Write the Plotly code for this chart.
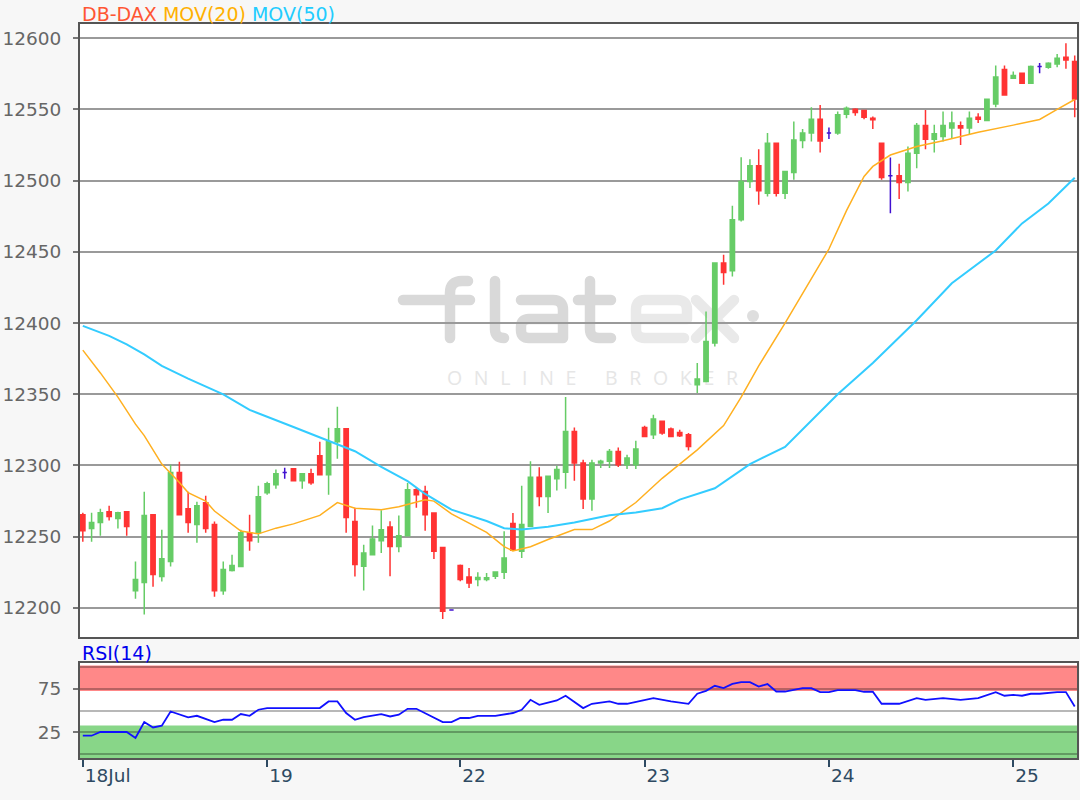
import base64
import plotly.graph_objects as go

# bar index 0 = first bar of 18 Jul; one list entry per bar
opens = [12265.5, 12255.7, 12259.9, 12267.6, 12262.7, 12267.6, 12212.1, 12217.8, 12265.5, 12222.0,
         12232.5, 12295.0, 12269.7, 12258.5, 12273.9, 12258.5, 12212.1, 12226.2, 12229.0, 12252.8,
         12252.8, 12280.9, 12286.5, 12295.0, 12297.8, 12289.3, 12294.2, 12306.9, 12293.5, 12316.7,
         12325.8, 12260.6, 12229.2, 12237.4, 12247.2, 12256.8, 12243.2, 12250.7, 12283.0, 12281.8,
         12266.7, 12242.5, 12198.5, 12229.7, 12221.7, 12219.9, 12219.9, 12222.2, 12225.0, 12259.2,
         12239.7, 12257.3, 12291.7, 12278.3, 12290.7, 12295.2, 12323.9, 12301.8, 12276.5, 12301.8,
         12302.9, 12309.9, 12300.6, 12300.6, 12326.7, 12321.6, 12331.0, 12325.6, 12323.2, 12321.6,
         12356.7, 12359.0, 12386.0, 12442.1, 12436.7, 12472.5, 12499.4, 12510.4, 12491.2, 12526.3,
         12491.2, 12505.7, 12528.2, 12533.4, 12543.2, 12533.4, 12533.4, 12546.7, 12550.2, 12549.2,
         12543.9, 12526.3, 12503.4, 12503.4, 12498.7, 12519.3, 12538.7, 12529.1, 12531.0, 12536.9,
         12538.5, 12536.9, 12544.6, 12542.2, 12553.9, 12578.0, 12571.9, 12575.5, 12568.4, 12580.1,
         12579.7, 12582.0, 12586.7, 12583.6]
highs = [12266.9, 12266.9, 12269.7, 12271.8, 12267.6, 12267.6, 12232.5, 12281.6, 12265.5, 12254.9,
         12300.6, 12302.7, 12281.6, 12274.6, 12278.8, 12260.6, 12232.5, 12237.4, 12254.9, 12265.5,
         12285.8, 12288.6, 12297.1, 12298.5, 12297.8, 12294.2, 12297.8, 12316.7, 12326.5, 12341.3,
         12325.8, 12270.4, 12244.4, 12257.8, 12268.5, 12260.8, 12264.8, 12287.7, 12284.4, 12285.8,
         12266.7, 12242.5, 12199.0, 12230.4, 12228.1, 12225.0, 12224.6, 12225.7, 12253.8, 12266.7,
         12285.8, 12302.9, 12298.7, 12292.4, 12299.9, 12348.1, 12326.7, 12304.1, 12304.1, 12304.1,
         12311.6, 12312.7, 12307.6, 12317.4, 12327.9, 12335.6, 12331.0, 12326.7, 12325.1, 12322.8,
         12371.9, 12408.1, 12442.1, 12447.9, 12482.3, 12516.5, 12515.1, 12522.1, 12533.4, 12526.3,
         12506.4, 12541.5, 12536.2, 12551.6, 12553.2, 12537.3, 12548.5, 12552.0, 12550.9, 12549.7,
         12545.0, 12526.3, 12516.2, 12511.8, 12523.9, 12540.4, 12549.7, 12539.2, 12548.5, 12548.5,
         12541.5, 12548.5, 12547.4, 12557.2, 12580.8, 12580.8, 12576.6, 12575.5, 12580.8, 12582.7,
         12583.2, 12589.0, 12596.5, 12587.8]
lows = [12246.5, 12246.5, 12250.7, 12261.3, 12255.7, 12250.7, 12206.5, 12195.3, 12214.9, 12218.5,
        12229.0, 12265.5, 12252.8, 12245.8, 12252.8, 12207.9, 12209.3, 12225.5, 12229.0, 12240.2,
        12245.8, 12279.5, 12283.7, 12290.7, 12289.3, 12283.7, 12286.5, 12293.5, 12279.5, 12304.8,
        12252.8, 12222.0, 12212.3, 12237.4, 12238.6, 12222.2, 12239.0, 12250.7, 12270.4, 12254.2,
        12234.4, 12192.3, 12198.0, 12218.7, 12214.0, 12215.2, 12218.7, 12220.3, 12220.3, 12240.4,
        12235.1, 12257.3, 12271.3, 12266.7, 12282.5, 12283.7, 12289.3, 12269.5, 12268.3, 12298.2,
        12298.2, 12298.9, 12297.5, 12297.5, 12320.4, 12318.6, 12321.6, 12320.0, 12320.0, 12310.6,
        12350.9, 12359.0, 12383.6, 12426.9, 12432.7, 12471.3, 12494.8, 12483.0, 12488.9, 12488.9,
        12487.2, 12500.6, 12522.8, 12527.5, 12519.7, 12529.3, 12532.2, 12543.9, 12545.6, 12543.2,
        12536.2, 12500.6, 12477.2, 12487.2, 12492.4, 12508.8, 12522.1, 12519.7, 12527.5, 12529.8,
        12525.1, 12532.2, 12540.4, 12542.2, 12551.6, 12560.2, 12571.5, 12568.4, 12567.9, 12575.5,
        12578.5, 12579.7, 12578.5, 12544.6]
closes = [12254.2, 12259.9, 12266.9, 12264.1, 12266.9, 12257.1, 12219.9, 12264.8, 12223.4, 12234.6,
          12295.0, 12265.5, 12259.9, 12271.8, 12255.7, 12212.1, 12226.9, 12229.7, 12252.8, 12247.2,
          12278.1, 12287.2, 12294.2, 12295.0, 12289.3, 12294.2, 12287.9, 12293.5, 12316.7, 12325.8,
          12263.4, 12230.4, 12238.6, 12248.4, 12254.9, 12243.2, 12250.7, 12283.0, 12279.5, 12265.5,
          12239.7, 12197.6, 12198.5, 12219.9, 12217.5, 12221.3, 12221.1, 12225.3, 12235.1, 12240.4,
          12258.5, 12291.7, 12278.3, 12292.4, 12297.1, 12323.9, 12301.8, 12276.5, 12301.8, 12302.9,
          12309.9, 12300.6, 12305.3, 12311.6, 12320.4, 12332.6, 12322.8, 12320.4, 12320.9, 12313.4,
          12360.7, 12387.1, 12442.1, 12435.5, 12472.5, 12499.4, 12510.4, 12492.9, 12526.3, 12491.2,
          12506.4, 12528.6, 12533.4, 12543.2, 12527.9, 12533.4, 12546.2, 12550.9, 12547.8, 12544.6,
          12542.7, 12502.2, 12503.4, 12498.7, 12519.3, 12538.7, 12529.1, 12532.9, 12538.7, 12540.4,
          12536.9, 12543.9, 12543.2, 12557.2, 12572.7, 12560.2, 12573.8, 12568.4, 12580.1, 12580.1,
          12582.5, 12586.0, 12584.8, 12557.4]

mov20_x = [0, 2, 4, 5, 6, 7, 9, 11, 12, 14, 15, 18, 20, 22, 24, 27, 29, 31, 34, 36, 39, 40, 42, 46,
           48, 49, 51, 53, 56, 58, 60, 63, 66, 68, 70, 73, 75, 77, 80, 85, 87, 89, 90, 92, 95, 98,
           102, 106, 109, 111, 113]
mov20_y = [12381, 12365, 12348, 12338, 12329, 12321, 12301, 12288, 12281, 12275, 12268, 12254,
           12252, 12256, 12259, 12265, 12274, 12270, 12269, 12271, 12276, 12275, 12266, 12253,
           12243, 12240, 12243, 12248, 12255, 12255, 12261, 12274, 12291, 12301, 12311, 12328,
           12348, 12370, 12400, 12452, 12479, 12503, 12510, 12518, 12524, 12528, 12534, 12539,
           12543, 12550, 12557]

mov50_x = [0, 3, 5, 7, 9, 12, 16, 19, 24, 26, 29, 31, 34, 37, 39, 42, 46, 48, 50, 53, 56, 60, 63,
           66, 68, 70, 72, 76, 80, 86, 90, 95, 99, 104, 107, 110, 113]
mov50_y = [12398, 12391, 12385, 12378, 12370, 12361, 12350, 12339, 12327, 12322, 12315, 12310,
           12299, 12289, 12280, 12269, 12261, 12256, 12255, 12257, 12260, 12265, 12267, 12270,
           12276, 12280, 12284, 12301, 12313, 12350, 12372, 12402, 12428, 12451, 12470, 12484,
           12502]

rsi_x = [0, 1, 2, 5, 6, 7, 8, 9, 10, 12, 13, 15, 16, 17, 18, 19, 20, 21, 27, 28, 29, 30, 31, 32,
         34, 35, 36, 37, 38, 41, 42, 43, 44, 45, 47, 49, 50, 51, 52, 54, 55, 57, 58, 60, 61, 62,
         65, 67, 69, 70, 71, 72, 73, 74, 75, 76, 77, 78, 79, 80, 82, 83, 84, 85, 86, 88, 89, 90,
         91, 93, 95, 96, 98, 99, 100, 102, 103, 104, 105, 106, 107, 108, 109, 111, 112, 113]
rsi_y = [20.8, 20.8, 25.1, 25.1, 18.1, 36.6, 30.4, 32.4, 48.9, 42.0, 43.9, 36.6, 39.3, 39.3, 45.9,
         43.9, 50.9, 52.8, 52.8, 60.5, 60.5, 47.1, 39.3, 42.4, 45.9, 43.1, 45.1, 52.0, 52.0, 36.6,
         36.6, 41.3, 41.3, 43.9, 43.9, 47.1, 50.9, 62.4, 56.6, 61.6, 67.1, 52.8, 57.8, 60.5, 57.8,
         57.8, 64.4, 60.5, 57.8, 69.4, 72.8, 78.6, 76.0, 80.9, 82.9, 82.9, 77.8, 80.6, 72.0, 72.0,
         76.0, 76.0, 71.3, 71.3, 73.6, 73.6, 71.7, 71.7, 57.8, 57.8, 64.4, 62.4, 64.4, 63.6, 62.4,
         64.4, 68.2, 71.3, 67.1, 68.2, 67.1, 69.4, 69.4, 71.3, 71.3, 54.7]

day_ticks = [0, 21, 43, 64, 85, 106]
day_labels = ["18Jul", "19", "22", "23", "24", "25"]

GREEN = "#66CC66"
RED = "#FF3333"
DOJI = "#4010D0"
FONT = "DejaVu Sans"

n = len(opens)
body = [i for i in range(n) if opens[i] != closes[i]]
doji = [i for i in range(n) if opens[i] == closes[i]]

fig = go.Figure()

fig.add_trace(go.Candlestick(
    x=body,
    open=[opens[i] for i in body], high=[highs[i] for i in body],
    low=[lows[i] for i in body], close=[closes[i] for i in body],
    increasing=dict(line=dict(color=GREEN, width=1.5), fillcolor=GREEN),
    decreasing=dict(line=dict(color=RED, width=1.5), fillcolor=RED),
    xaxis="x", yaxis="y"))
fig.add_trace(go.Candlestick(
    x=doji,
    open=[opens[i] for i in doji], high=[highs[i] for i in doji],
    low=[lows[i] for i in doji], close=[closes[i] for i in doji],
    increasing=dict(line=dict(color=DOJI, width=1.5), fillcolor=DOJI),
    decreasing=dict(line=dict(color=DOJI, width=1.5), fillcolor=DOJI),
    xaxis="x", yaxis="y"))

fig.add_trace(go.Scatter(x=mov20_x, y=mov20_y, mode="lines",
                         line=dict(color="#FFB020", width=1.5), xaxis="x", yaxis="y"))
fig.add_trace(go.Scatter(x=mov50_x, y=mov50_y, mode="lines",
                         line=dict(color="#33CCFF", width=2), xaxis="x", yaxis="y"))

fig.add_trace(go.Scatter(x=rsi_x, y=rsi_y, mode="lines",
                         line=dict(color="#1010FF", width=1.8), xaxis="x2", yaxis="y2"))

# flatex watermark (stroked logo), page pixel coords shifted into the plot area
wm = ('<svg xmlns="http://www.w3.org/2000/svg" width="997" height="734" viewBox="0 0 997 734">'
      '<g transform="translate(-80,-24)" fill="none" stroke-width="10.5" '
      'stroke-linecap="round" stroke-linejoin="round">'
      '<g stroke="#d9d9d9">'
      '<path d="M403,300 H470 M450,338 V293 Q450,281 462,281 H468"/>'
      '<path d="M495,281 V329 Q495,338 504,338"/>'
      '<path d="M521,300 H553 Q563,300 563,310 V338 M563,319 H529 Q521,319 521,327 V330 '
      'Q521,338 529,338 H563"/>'
      '<path d="M590,281 V329 Q590,338 599,338 H611 M578,300 H611"/>'
      '</g>'
      '<g stroke="#e9e9e9">'
      '<path d="M687,319 V310 Q687,300 677,300 H645 Q636,300 636,310 V329 Q636,338 645,338 '
      'H684 M636,319 H687"/>'
      '<path d="M696,300 L734,338 M734,300 L696,338"/>'
      '</g></g>'
      '<circle cx="673" cy="292" r="6" fill="#dedede"/>'
      '<text x="367" y="361" font-family="Open Sans" font-size="19.5" fill="#e6e6e6" '
      'textLength="291" lengthAdjust="spacing">ONLINE BROKER</text></svg>')
wm_src = "data:image/svg+xml;base64," + base64.b64encode(wm.encode()).decode()

frame = dict(showline=True, mirror=True, linecolor="#555555", linewidth=2, zeroline=False,
             automargin=False)
grid_rsi = "rgba(0,0,0,0.28)"

fig.update_layout(
    width=1080, height=800,
    margin=dict(l=80, r=3, t=24, b=42),
    paper_bgcolor="#F7F7F7", plot_bgcolor="white",
    showlegend=False,
    font=dict(family=FONT, size=18.5, color="#666666"),
    xaxis=dict(domain=[0, 1], anchor="y", range=[-0.32, 113.26], showticklabels=False,
               showgrid=False, ticks="", rangeslider=dict(visible=False), **frame),
    yaxis=dict(domain=[0.1649, 1], anchor="x", range=[12179.6, 12610],
               tickvals=list(range(12200, 12601, 50)), tickformat="d",
               showgrid=True, gridcolor="#9a9a9a", gridwidth=2,
               ticks="outside", ticklen=5, tickwidth=2, tickcolor="#777777",
               ticklabelstandoff=8,
               tickfont=dict(family=FONT, size=18.5, color="#666666"), **frame),
    xaxis2=dict(domain=[0, 1], anchor="y2", matches="x", range=[-0.32, 113.26],
                tickvals=day_ticks, ticktext=day_labels, showgrid=False,
                ticks="outside", ticklen=7, tickwidth=2, tickcolor="#2E4A62",
                ticklabelposition="outside right",
                tickfont=dict(family=FONT, size=18.5, color="#2E4A62"),
                rangeslider=dict(visible=False), **frame),
    yaxis2=dict(domain=[0, 0.1294], anchor="x2", range=[-5, 105],
                tickvals=[25, 75], showgrid=True, gridcolor=grid_rsi, gridwidth=2,
                minor=dict(tickvals=[0, 50, 100], showgrid=True, gridcolor=grid_rsi,
                           gridwidth=2, ticks=""),
                ticks="outside", ticklen=5, tickwidth=2, tickcolor="#777777",
                ticklabelstandoff=8,
                tickfont=dict(family=FONT, size=18.5, color="#666666"), **frame),
    shapes=[
        dict(type="rect", xref="x2 domain", x0=0, x1=1, yref="y2", y0=72.5, y1=102,
             fillcolor="#FF8888", line_width=0, layer="below"),
        dict(type="rect", xref="x2 domain", x0=0, x1=1, yref="y2", y0=-5, y1=32.5,
             fillcolor="#88D688", line_width=0, layer="below"),
    ],
    images=[dict(source=wm_src, xref="paper", yref="paper", x=0, y=1, sizex=1, sizey=1,
                 xanchor="left", yanchor="top", sizing="stretch", layer="below")],
    annotations=[
        dict(xref="paper", yref="paper", x=0, y=1, xanchor="left", yanchor="bottom",
             xshift=0, yshift=-3, showarrow=False, font=dict(family=FONT, size=19),
             text='<span style="color:#FF5533">DB-DAX</span> '
                  '<span style="color:#FFB000">MOV(20)</span> '
                  '<span style="color:#22CCFF">MOV(50)</span>'),
        dict(xref="paper", yref="paper", x=0, y=0.1294, xanchor="left", yanchor="bottom",
             yshift=-3, showarrow=False, font=dict(family=FONT, size=19, color="#0000EE"),
             text="RSI(14)"),
    ],
)

# drop the page's default body margin so the figure sits at the window's corner
fig.write_html("out.html", config={"displayModeBar": False},
               post_script="document.body.style.margin='0';")
